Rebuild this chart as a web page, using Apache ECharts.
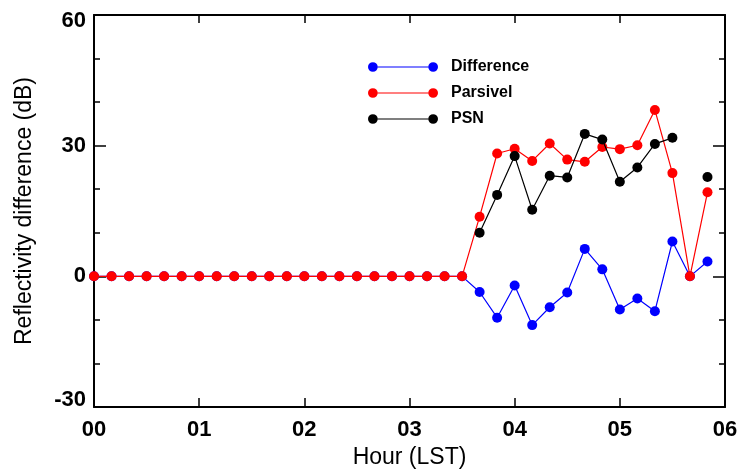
<!DOCTYPE html>
<html>
<head>
<meta charset="utf-8">
<script src="https://cdn.jsdelivr.net/npm/echarts@6/dist/echarts.min.js"></script>
<style>html,body{margin:0;padding:0;background:#fff;}#c{width:742px;height:472px;}</style>
</head>
<body>
<div id="c"></div>
<script>
// Time of each observation, minutes after 00 LST
var minutes = [0,10,20,30,40,50,60,70,80,90,100,110,120,130,140,150,160,170,180,190,200,210,
               220,230,240,250,260,270,280,290,300,310,320,330,340,350];
// Reflectivity difference (dB)
var difference = [0,0,0,0,0,0,0,0,0,0,0,0,0,0,0,0,0,0,0,0,0,0,
                  -3.6,-9.5,-2.1,-11.2,-7.1,-3.7,6.3,1.6,-7.6,-5.1,-8.0,8.0,0,3.4];
var parsivel = [0,0,0,0,0,0,0,0,0,0,0,0,0,0,0,0,0,0,0,0,0,0,
                13.7,28.2,29.3,26.5,30.5,26.8,26.3,29.7,29.2,30.1,38.2,23.7,0,19.3];
var psn = [null,null,null,null,null,null,null,null,null,null,null,null,null,null,null,null,null,null,null,null,null,null,
           10.0,18.7,27.6,15.3,23.1,22.7,32.7,31.4,21.7,25.0,30.4,31.8,null,22.8];
var xTickLabels = ['00','01','02','03','04','05','06'];
var seriesNames = ['Difference','Parsivel','PSN'];
var seriesColors = ['#0000ff','#ff0000','#000000'];

function pairs(vals){ return minutes.map(function(m,i){ return [m/60, vals[i]]; }); }

var icon = 'path://M0,5a5,5 0 1,0 10,0a5,5 0 1,0 -10,0Z M62,5a5,5 0 1,0 10,0a5,5 0 1,0 -10,0Z M10,4.4L62,4.4L62,5.6L10,5.6Z';

var font = 'Liberation Sans, Arial, Helvetica, sans-serif';
var axisLine = {show:true, onZero:false, lineStyle:{color:'#000', width:2}};
var tickFont = {fontFamily:font, fontSize:22, fontWeight:'bold', color:'#000'};

var chart = echarts.init(document.getElementById('c'), null, {renderer:'canvas'});
var values = [difference, parsivel, psn];
chart.setOption({
  animation:false,
  backgroundColor:'#fff',
  grid:{left:94, top:15, right:17, bottom:65, containLabel:false, outerBoundsMode:'none'},
  legend:{
    orient:'vertical', left:368, top:59, padding:0, itemWidth:70, itemHeight:10, itemGap:10,
    textStyle:{fontFamily:font, fontSize:16, fontWeight:'bold', color:'#000', padding:[0,0,0,8], lineHeight:16},
    data: seriesNames.map(function(n){ return {name:n, icon:icon}; })
  },
  xAxis:[{
    type:'value', min:0, max:6, interval:1, position:'bottom',
    name:'Hour (LST)', nameLocation:'middle', nameGap:38,
    nameTextStyle:{fontFamily:font, fontSize:23, color:'#000'},
    axisLine:axisLine,
    axisTick:{show:true, inside:true, length:9, lineStyle:{color:'#000', width:1.5}},
    axisLabel:Object.assign({margin:12, hideOverlap:false,
      formatter:function(v){ return xTickLabels[Math.round(v)]; }}, tickFont),
    splitLine:{show:false}
  },{
    type:'value', min:0, max:6, interval:1, position:'top',
    axisLine:axisLine,
    axisTick:{show:true, inside:true, length:8, lineStyle:{color:'#000', width:1.5}},
    axisLabel:{show:false}, splitLine:{show:false}
  }],
  yAxis:[{
    type:'value', min:-30, max:60, interval:30, position:'left',
    name:'Reflectivity difference (dB)', nameLocation:'middle', nameGap:58,
    nameTextStyle:{fontFamily:font, fontSize:23, color:'#000'},
    axisLine:axisLine,
    axisTick:{show:true, inside:true, length:12, lineStyle:{color:'#000', width:1.5}},
    minorTick:{show:true, splitNumber:3, length:6, lineStyle:{color:'#000', width:1.5}},
    axisLabel:Object.assign({margin:8,
      formatter:function(v){
        if (v === 60) return '{mx|' + v + '}';
        if (v === -30) return '{mn|' + v + '}';
        return String(v);
      },
      rich:{
        mx:Object.assign({padding:[12,0,0,0]}, tickFont),
        mn:Object.assign({padding:[0,0,14,0]}, tickFont)
      }}, tickFont),
    splitLine:{show:false}
  },{
    type:'value', min:-30, max:60, interval:30, position:'right',
    axisLine:axisLine,
    axisTick:{show:true, inside:true, length:12, lineStyle:{color:'#000', width:1.5}},
    minorTick:{show:true, splitNumber:3, length:6, lineStyle:{color:'#000', width:1.5}},
    axisLabel:{show:false}, splitLine:{show:false}
  }],
  series: seriesNames.map(function(n,k){
    return {
      name:n, type:'line', xAxisIndex:0, yAxisIndex:0,
      data:pairs(values[k]), connectNulls:false,
      symbol:'circle', symbolSize:10, showSymbol:true, showAllSymbol:true,
      itemStyle:{color:seriesColors[k]},
      lineStyle:{color:seriesColors[k], width:1.2},
      z:2+k
    };
  })
});
</script>
</body>
</html>
